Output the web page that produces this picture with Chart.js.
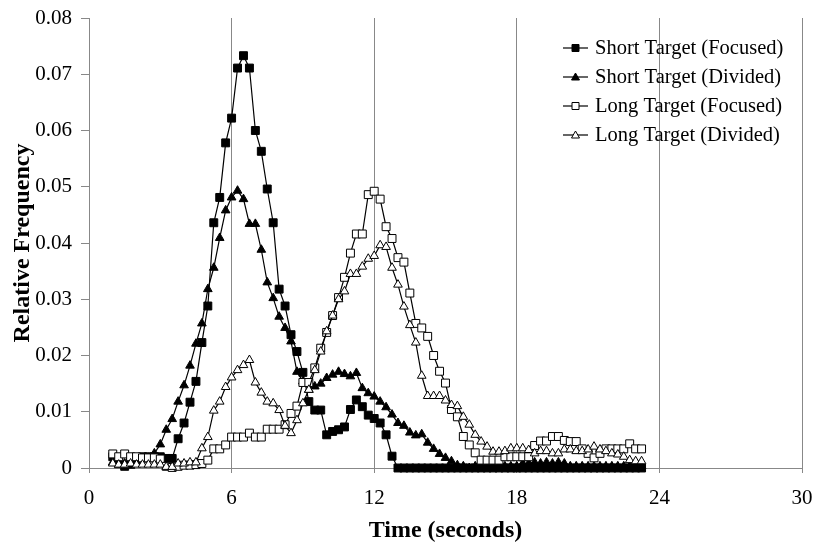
<!DOCTYPE html>
<html>
<head>
<meta charset="utf-8">
<script src="https://cdn.jsdelivr.net/npm/chart.js@4.4.1/dist/chart.umd.min.js"></script>
<style>
  html, body { margin: 0; padding: 0; background: #fff; }
</style>
</head>
<body>
<canvas id="chart" width="816" height="547"></canvas>
<script>
// sample times (seconds)
const times = [
  1, 1.25, 1.5, 1.75, 2, 2.25, 2.5, 2.75, 3, 3.25, 3.5, 3.75,
  4, 4.25, 4.5, 4.75, 5, 5.25, 5.5, 5.75, 6, 6.25, 6.5, 6.75,
  7, 7.25, 7.5, 7.75, 8, 8.25, 8.5, 8.75, 9, 9.25, 9.5, 9.75,
  10, 10.25, 10.5, 10.75, 11, 11.25, 11.5, 11.75, 12, 12.25, 12.5, 12.75,
  13, 13.25, 13.5, 13.75, 14, 14.25, 14.5, 14.75, 15, 15.25, 15.5, 15.75,
  16, 16.25, 16.5, 16.75, 17, 17.25, 17.5, 17.75, 18, 18.25, 18.5, 18.75,
  19, 19.25, 19.5, 19.75, 20, 20.25, 20.5, 20.75, 21, 21.25, 21.5, 21.75,
  22, 22.25, 22.5, 22.75, 23, 23.25
];

const shortFocused = [
  0.0020, 0.0015, 0.0003, 0.0010,  0.0018, 0.0020, 0.0020, 0.0020,
  0.0020, 0.0017, 0.0017, 0.0052,  0.0080, 0.0117, 0.0154, 0.0223,
  0.0288, 0.0436, 0.0481, 0.0578,  0.0622, 0.0711, 0.0733, 0.0711,
  0.0600, 0.0563, 0.0496, 0.0436,  0.0318, 0.0288, 0.0237, 0.0207,
  0.0170, 0.0118, 0.0103, 0.0103,  0.0059, 0.0065, 0.0068, 0.0073,
  0.0104, 0.0121, 0.0109, 0.0094,  0.0088, 0.0080, 0.0059, 0.0021,
  0, 0, 0, 0,  0, 0, 0, 0,  0, 0, 0, 0,  0, 0, 0, 0,  0, 0, 0, 0,
  0, 0, 0, 0,  0, 0, 0, 0,  0, 0, 0, 0,  0, 0, 0, 0,  0, 0, 0, 0,
  0, 0
];

const shortDivided = [
  0.0010, 0.0005, 0.0008, 0.0004,  0.0012, 0.0015, 0.0018, 0.0026,
  0.0042, 0.0068, 0.0087, 0.0118,  0.0147, 0.0182, 0.0221, 0.0257,
  0.0318, 0.0356, 0.0409, 0.0458,  0.0481, 0.0493, 0.0478, 0.0434,
  0.0434, 0.0388, 0.0330, 0.0302,  0.0269, 0.0249, 0.0225, 0.0171,
  0.0154, 0.0139, 0.0145, 0.0150,  0.0160, 0.0166, 0.0171, 0.0167,
  0.0163, 0.0169, 0.0142, 0.0133,  0.0127, 0.0118, 0.0108, 0.0095,
  0.0080, 0.0075, 0.0063, 0.0058,  0.0060, 0.0045, 0.0034, 0.0025,
  0.0018, 0.0012, 0.0005, 0.0003,  0.0000, 0.0003, 0.0003, 0.0000,
  0.0003, 0.0003, 0.0003, 0.0003,  0.0003, 0.0008, 0.0008, 0.0010,
  0.0008, 0.0010, 0.0008, 0.0010,  0.0008, 0.0003, 0.0003, 0.0003,
  0.0003, 0.0003, 0.0003, 0.0003,  0.0003, 0.0003, 0.0003, 0.0003,
  0.0003, 0.0003
];

const longFocused = [
  0.0025, 0.0020, 0.0025, 0.0020,  0.0020, 0.0018, 0.0018, 0.0018,
  0.0016, 0.0003, 0.0001, 0.0003,  0.0005, 0.0005, 0.0006, 0.0008,
  0.0014, 0.0034, 0.0034, 0.0041,  0.0055, 0.0055, 0.0055, 0.0062,
  0.0055, 0.0055, 0.0069, 0.0069,  0.0069, 0.0077, 0.0097, 0.0110,
  0.0152, 0.0152, 0.0178, 0.0213,  0.0241, 0.0271, 0.0303, 0.0339,
  0.0382, 0.0416, 0.0416, 0.0486,  0.0492, 0.0478, 0.0429, 0.0408,
  0.0374, 0.0366, 0.0311, 0.0257,  0.0249, 0.0234, 0.0200, 0.0172,
  0.0151, 0.0104, 0.0091, 0.0056,  0.0041, 0.0027, 0.0014, 0.0014,
  0.0014, 0.0014, 0.0020, 0.0020,  0.0020, 0.0020, 0.0020, 0.0040,
  0.0048, 0.0048, 0.0056, 0.0056,  0.0049, 0.0047, 0.0047, 0.0034,
  0.0026, 0.0018, 0.0026, 0.0034,  0.0034, 0.0034, 0.0034, 0.0043,
  0.0034, 0.0034
];

const longDivided = [
  0.0008, 0.0006, 0.0006, 0.0008,  0.0006, 0.0006, 0.0006, 0.0006,
  0.0006, 0.0002, 0.0002, 0.0008,  0.0008, 0.0010, 0.0010, 0.0035,
  0.0055, 0.0102, 0.0118, 0.0144,  0.0161, 0.0174, 0.0183, 0.0192,
  0.0152, 0.0134, 0.0118, 0.0115,  0.0103, 0.0075, 0.0062, 0.0085,
  0.0115, 0.0139, 0.0174, 0.0207,  0.0243, 0.0271, 0.0300, 0.0314,
  0.0345, 0.0345, 0.0358, 0.0372,  0.0377, 0.0396, 0.0393, 0.0356,
  0.0326, 0.0287, 0.0254, 0.0223,  0.0164, 0.0128, 0.0128, 0.0128,
  0.0120, 0.0112, 0.0110, 0.0091,  0.0077, 0.0059, 0.0047, 0.0038,
  0.0029, 0.0029, 0.0030, 0.0035,  0.0035, 0.0035, 0.0032, 0.0026,
  0.0030, 0.0030, 0.0026, 0.0026,  0.0033, 0.0033, 0.0030, 0.0030,
  0.0033, 0.0038, 0.0033, 0.0030,  0.0026, 0.0024, 0.0020, 0.0014,
  0.0012, 0.0012
];

const seriesLabels = [
  'Short Target (Focused)',
  'Short Target (Divided)',
  'Long Target (Focused)',
  'Long Target (Divided)'
];

const xTicks = [0, 6, 12, 18, 24, 30];

function toPoints(values) {
  return values.map((v, i) => ({ x: times[i], y: v }));
}

function makeSet(label, values, style, filled, radius, order) {
  return {
    label: label,
    data: toPoints(values),
    borderColor: '#000',
    borderWidth: 1.2,
    pointStyle: style,
    pointRadius: radius,
    pointBorderWidth: 1,
    pointBorderColor: '#000',
    pointBackgroundColor: filled ? '#000' : '#fff',
    backgroundColor: filled ? '#000' : '#fff',
    tension: 0,
    clip: false,
    order: order
  };
}

// legend drawn like the spreadsheet one: short line with a marker in it
const lineLegend = {
  id: 'lineLegend',
  afterDraw(chart) {
    const ctx = chart.ctx;
    const area = chart.chartArea;
    const x0 = area.left + 474;
    const y0 = area.top + 30;
    chart.data.datasets.forEach((ds, i) => {
      const y = y0 + i * 29;
      const cx = x0 + 12.5;
      ctx.save();
      ctx.strokeStyle = '#000';
      ctx.lineWidth = 1.2;
      ctx.beginPath();
      ctx.moveTo(x0, y);
      ctx.lineTo(x0 + 25, y);
      ctx.stroke();
      ctx.fillStyle = ds.pointBackgroundColor;
      ctx.lineWidth = 1;
      ctx.beginPath();
      if (ds.pointStyle === 'rect') {
        ctx.rect(cx - 3.5, y - 3.5, 7, 7);
      } else {
        ctx.moveTo(cx, y - 4);
        ctx.lineTo(cx + 4, y + 3);
        ctx.lineTo(cx - 4, y + 3);
        ctx.closePath();
      }
      ctx.fill();
      ctx.stroke();
      ctx.fillStyle = '#000';
      ctx.font = '20.5px "Liberation Serif", "Times New Roman", serif';
      ctx.textBaseline = 'middle';
      ctx.textAlign = 'left';
      ctx.fillText(ds.label, x0 + 32, y + 1);
      ctx.restore();
    });
  }
};

Chart.defaults.font.family = '"Liberation Serif", "Times New Roman", serif';
Chart.defaults.color = '#000';

new Chart(document.getElementById('chart'), {
  type: 'line',
  data: {
    datasets: [
      makeSet(seriesLabels[0], shortFocused, 'rect', true, 5.6, 4),
      makeSet(seriesLabels[1], shortDivided, 'triangle', true, 5, 3),
      makeSet(seriesLabels[2], longFocused, 'rect', false, 5.6, 2),
      makeSet(seriesLabels[3], longDivided, 'triangle', false, 5, 1)
    ]
  },
  options: {
    responsive: false,
    animation: false,
    layout: { padding: { left: 8, top: 18, right: 14, bottom: 0 } },
    plugins: {
      legend: { display: false },
      tooltip: { enabled: false }
    },
    scales: {
      x: {
        type: 'linear',
        min: 0,
        max: 30,
        afterFit: (scale) => {
          scale.height = 79;
          scale.paddingLeft = 0;
          scale.paddingRight = 0;
        },
        afterBuildTicks: (scale) => { scale.ticks = xTicks.map(v => ({ value: v })); },
        ticks: { font: { size: 21 }, padding: 13, maxRotation: 0 },
        grid: { color: '#888', lineWidth: 1, drawTicks: true, tickLength: 5 },
        border: { color: '#888', width: 1 },
        title: {
          display: true,
          text: 'Time (seconds)',
          font: { size: 24, weight: 'bold' },
          padding: { top: 0, bottom: 2 }
        }
      },
      y: {
        min: 0,
        max: 0.08,
        afterFit: (scale) => {
          scale.width = 81;
          scale.paddingTop = 0;
          scale.paddingBottom = 0;
        },
        ticks: {
          stepSize: 0.01,
          font: { size: 21 },
          padding: 9,
          callback: (v) => v === 0 ? '0' : v.toFixed(2)
        },
        grid: { drawOnChartArea: false, drawTicks: true, tickLength: 8, color: '#888' },
        border: { color: '#888', width: 1 },
        title: {
          display: true,
          text: 'Relative Frequency',
          font: { size: 24, weight: 'bold' },
          padding: { top: 0, bottom: 0 }
        }
      }
    }
  },
  plugins: [lineLegend]
});
</script>
</body>
</html>
